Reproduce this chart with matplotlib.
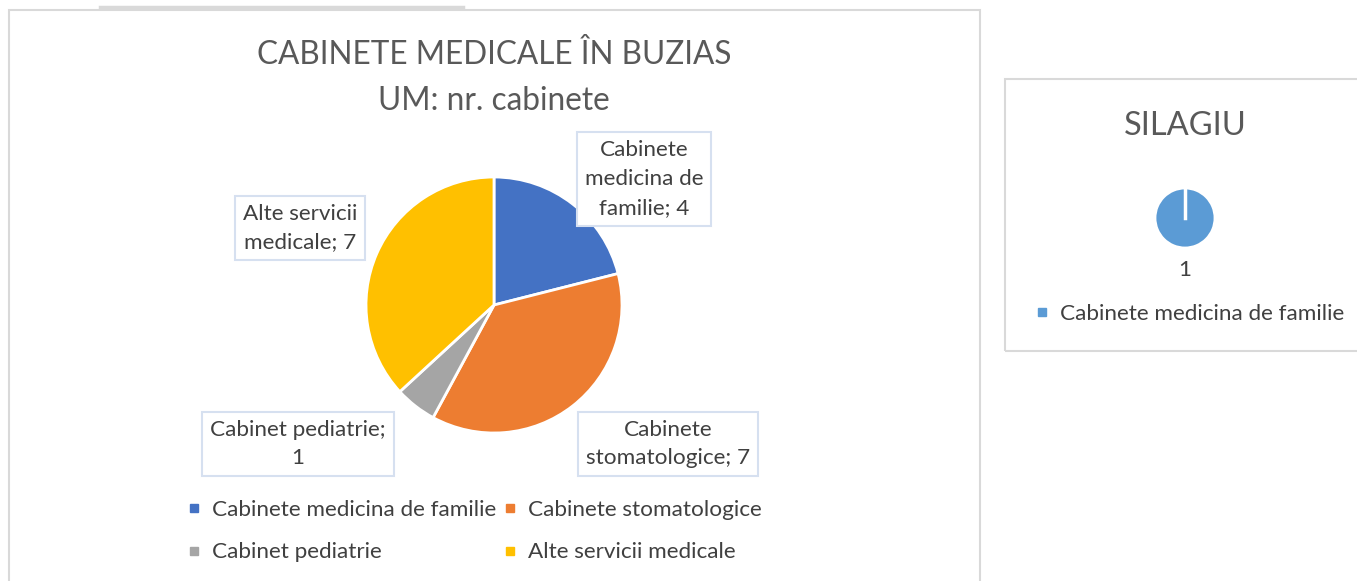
import matplotlib.pyplot as plt
from matplotlib.patches import Rectangle
from matplotlib.lines import Line2D

plt.rcParams['font.family'] = ['Lato', 'DejaVu Sans']

# data
categories = ['Cabinete medicina de familie', 'Cabinete stomatologice',
              'Cabinet pediatrie', 'Alte servicii medicale']
values = [4, 7, 1, 7]
colors = ['#4472C4', '#ED7D31', '#A5A5A5', '#FFC000']
label_texts = ['Cabinete\nmedicina de\nfamilie; 4', 'Cabinete\nstomatologice; 7',
               'Cabinet pediatrie;\n1', 'Alte servicii\nmedicale; 7']

sil_categories = ['Cabinete medicina de familie']
sil_values = [1]
sil_colors = ['#5B9BD5']

W, H = 1357, 581
fig = plt.figure(figsize=(W / 100, H / 100), dpi=100)


def px(x, y):
    # pixel coords (from top-left) -> figure fraction
    return x / W, 1 - y / H


def box_axes(cx, cy, r):
    l, b = px(cx - r, cy + r)
    return fig.add_axes([l, b, 2 * r / W, 2 * r / H])


txt = '#404040'
title_c = '#595959'
grid_c = '#D9D9D9'

# chart frames
x0, y0 = px(9, 590)
x1, y1 = px(980, 10)
fig.patches.append(Rectangle((x0, y0), x1 - x0, y1 - y0, transform=fig.transFigure,
                             fill=False, edgecolor=grid_c, lw=1.5))
fig.add_artist(Line2D([100 / W, 463 / W], [1 - 7 / H, 1 - 7 / H], color=grid_c, lw=2.5))
x0, y0 = px(1005, 351)
x1, y1 = px(1362, 79)
fig.patches.append(Rectangle((x0, y0), x1 - x0, y1 - y0, transform=fig.transFigure,
                             fill=False, edgecolor=grid_c, lw=1.5))

# main pie
ax = box_axes(494, 305, 128)
wedges, _ = ax.pie(values, colors=colors, startangle=90, counterclock=False,
                   wedgeprops=dict(edgecolor='white', linewidth=2))
ax.set_xlim(-1, 1)
ax.set_ylim(-1, 1)
ax.axis('off')

fig.text(*px(494, 55), 'CABINETE MEDICALE ÎN BUZIAS', ha='center', va='center',
         fontsize=22.7, color=title_c)
fig.text(*px(494, 101), 'UM: nr. cabinete', ha='center', va='center',
         fontsize=22.7, color=title_c)

label_pos = [(644, 179), (668, 444), (298, 444), (300, 228)]
for (lx, ly), t in zip(label_pos, label_texts):
    fig.text(*px(lx, ly), t, ha='center', va='center', fontsize=16.2, color=txt,
             linespacing=1.55,
             bbox=dict(boxstyle='square,pad=0.35', fc='white', ec='#D6E0F0', lw=1.5))

# legend is filled column-wise, so reorder to read row-wise
order = [0, 2, 1, 3]
handles = [Line2D([], [], marker='s', ls='', color=colors[i], markersize=6) for i in order]
fig.legend(handles, [categories[i] for i in order], loc='upper left',
           bbox_to_anchor=px(186, 500), ncol=2, frameon=False, fontsize=16.2,
           labelcolor=txt, handlelength=0.7, handletextpad=0.45, columnspacing=0.28,
           labelspacing=1.0, borderpad=0, borderaxespad=0)

# Silagiu pie
ax2 = box_axes(1185, 218, 30)
ax2.pie(sil_values, colors=sil_colors, startangle=90, counterclock=False,
        wedgeprops=dict(edgecolor='white', linewidth=2))
ax2.plot([0, 0], [0, 1], color='white', lw=2.5)
ax2.set_xlim(-1, 1)
ax2.set_ylim(-1, 1)
ax2.axis('off')
fig.text(*px(1185, 126), 'SILAGIU', ha='center', va='center', fontsize=23.5, color=title_c)
fig.text(*px(1185, 270), str(sil_values[0]), ha='center', va='center', fontsize=16.2,
         color=txt)
h2 = [Line2D([], [], marker='s', ls='', color=c, markersize=6) for c in sil_colors]
fig.legend(h2, sil_categories, loc='upper left', bbox_to_anchor=px(1034, 304),
           frameon=False, fontsize=16.2, labelcolor=txt, handlelength=0.7,
           handletextpad=0.45, borderpad=0, borderaxespad=0)

fig.savefig('out.png', dpi=100)
